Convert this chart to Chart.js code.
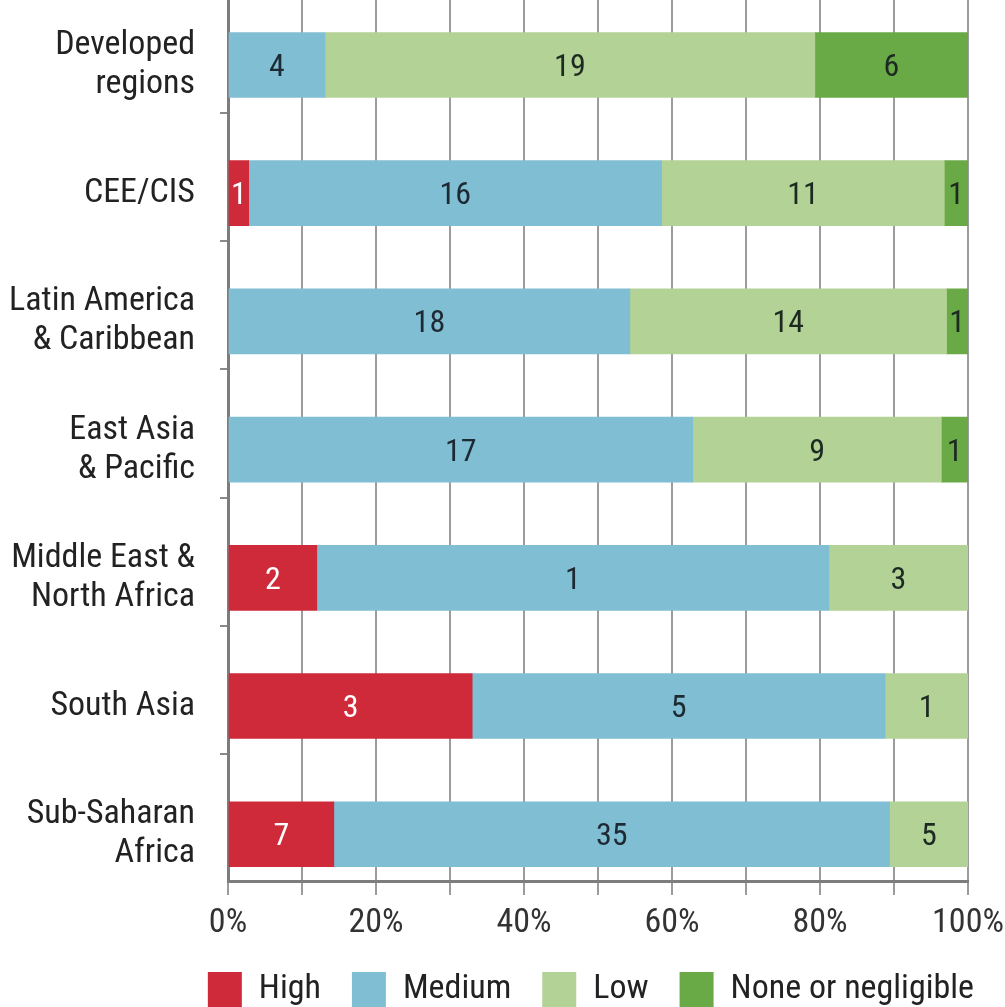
<!DOCTYPE html>
<html>
<head>
<meta charset="utf-8">
<script src="https://cdn.jsdelivr.net/npm/chart.js@4"></script>
<style>
  body { margin: 0; background: #fff; }
  #wrap { width: 1005px; height: 1007px; }
</style>
</head>
<body>
<div id="wrap"><canvas id="regions-chart"></canvas></div>
<script>
// region names (multi-line labels)
const categories = [
  ["Developed", "regions"],
  ["CEE/CIS"],
  ["Latin America", "& Caribbean"],
  ["East Asia", "& Pacific"],
  ["Middle East &", "North Africa"],
  ["South Asia"],
  ["Sub-Saharan", "Africa"]
];

// share of countries in each level (%)
const highPct   = [null, 2.8, null, null, 12.0, 33.0, 14.3];
const mediumPct = [13.1, 55.8, 54.3, 62.8, 69.2, 55.8, 75.1];
const lowPct    = [66.2, 38.2, 42.8, 33.6, 18.8, 11.2, 10.6];
const nonePct   = [20.7, 3.2, 2.9, 3.6, null, null, null];

// numbers printed inside the bars
const highCount   = [null, 1, null, null, 2, 3, 7];
const mediumCount = [4, 16, 18, 17, 1, 5, 35];
const lowCount    = [19, 11, 14, 9, 3, 1, 5];
const noneCount   = [6, 1, 1, 1, null, null, null];

const xTickLabels = ["0%", "20%", "40%", "60%", "80%", "100%"];

Chart.defaults.font.family = "'Liberation Sans Narrow', 'Roboto Condensed', 'DejaVu Sans Condensed', 'Liberation Sans', sans-serif";
Chart.defaults.color = "#222";

function toPoints(arr) {
  return arr.map((v, i) => ({ x: v, y: i }));
}

// writes the counts in the middle of each segment
const barLabels = {
  id: "barLabels",
  afterDatasetsDraw(chart) {
    const ctx = chart.ctx;
    ctx.save();
    ctx.font = "32px " + Chart.defaults.font.family;
    ctx.textAlign = "center";
    ctx.textBaseline = "middle";
    chart.data.datasets.forEach((ds, di) => {
      const meta = chart.getDatasetMeta(di);
      meta.data.forEach((bar, i) => {
        const txt = ds.counts[i];
        if (txt === null || ds.data[i].x === null) return;
        const p = bar.getCenterPoint();
        ctx.fillStyle = ds.labelColor;
        ctx.fillText(String(txt), p.x, p.y + 3);
      });
    });
    ctx.restore();
  }
};

new Chart(document.getElementById("regions-chart"), {
  type: "bar",
  data: {
    datasets: [
      { label: "High", data: toPoints(highPct), counts: highCount, backgroundColor: "#cf2a3a", labelColor: "#fff" },
      { label: "Medium", data: toPoints(mediumPct), counts: mediumCount, backgroundColor: "#80bed4", labelColor: "#1d2a33" },
      { label: "Low", data: toPoints(lowPct), counts: lowCount, backgroundColor: "#b3d295", labelColor: "#1d2a22" },
      { label: "None or negligible", data: toPoints(nonePct), counts: noneCount, backgroundColor: "#6aaa46", labelColor: "#1d2a22" }
    ]
  },
  plugins: [barLabels],
  options: {
    indexAxis: "y",
    responsive: true,
    maintainAspectRatio: false,
    animation: false,
    borderWidth: 0,
    barThickness: 65,
    layout: { padding: { top: 0, left: 0, right: 0, bottom: -10 } },
    scales: {
      x: {
        type: "linear",
        stacked: true,
        min: 0,
        max: 100,
        ticks: {
          stepSize: 10,
          padding: 8,
          font: { size: 34 },
          color: "#333",
          maxRotation: 0,
          autoSkip: false,
          callback: (v) => (v % 20 === 0 ? xTickLabels[v / 20] : "")
        },
        grid: { color: "#9c9c9c", lineWidth: 2, tickLength: 14 },
        border: { color: "#7d7d7d", width: 3 },
        afterFit(scale) {
          scale.height = 60;
          scale.paddingLeft = 0;
          scale.paddingRight = 37;
        }
      },
      y: {
        type: "linear",
        stacked: true,
        reverse: true,
        offset: false,
        min: -0.507,
        max: 6.365,
        afterBuildTicks(scale) {
          const t = [];
          categories.forEach((c, i) => {
            t.push({ value: i });
            if (i < categories.length - 1) t.push({ value: i + 0.374 });
          });
          scale.ticks = t;
        },
        ticks: {
          autoSkip: false,
          padding: 25,
          font: { size: 34, lineHeight: 1.15 },
          color: "#222",
          callback: (v) => (Number.isInteger(v) ? categories[v] : "")
        },
        grid: {
          offset: false,
          drawOnChartArea: false,
          tickLength: 8,
          lineWidth: 2,
          tickColor: (c) => (c.tick && Number.isInteger(c.tick.value) ? "rgba(0,0,0,0)" : "#8a8a8a")
        },
        border: { color: "#7d7d7d", width: 3 },
        afterFit(scale) {
          scale.width = 228;
          scale.paddingTop = 0;
          scale.paddingBottom = 0;
        }
      }
    },
    plugins: {
      legend: {
        position: "bottom",
        align: "end",
        labels: {
          boxWidth: 34,
          boxHeight: 35,
          padding: 31,
          font: { size: 34 },
          color: "#222"
        }
      },
      tooltip: { enabled: false }
    }
  }
});
</script>
</body>
</html>
